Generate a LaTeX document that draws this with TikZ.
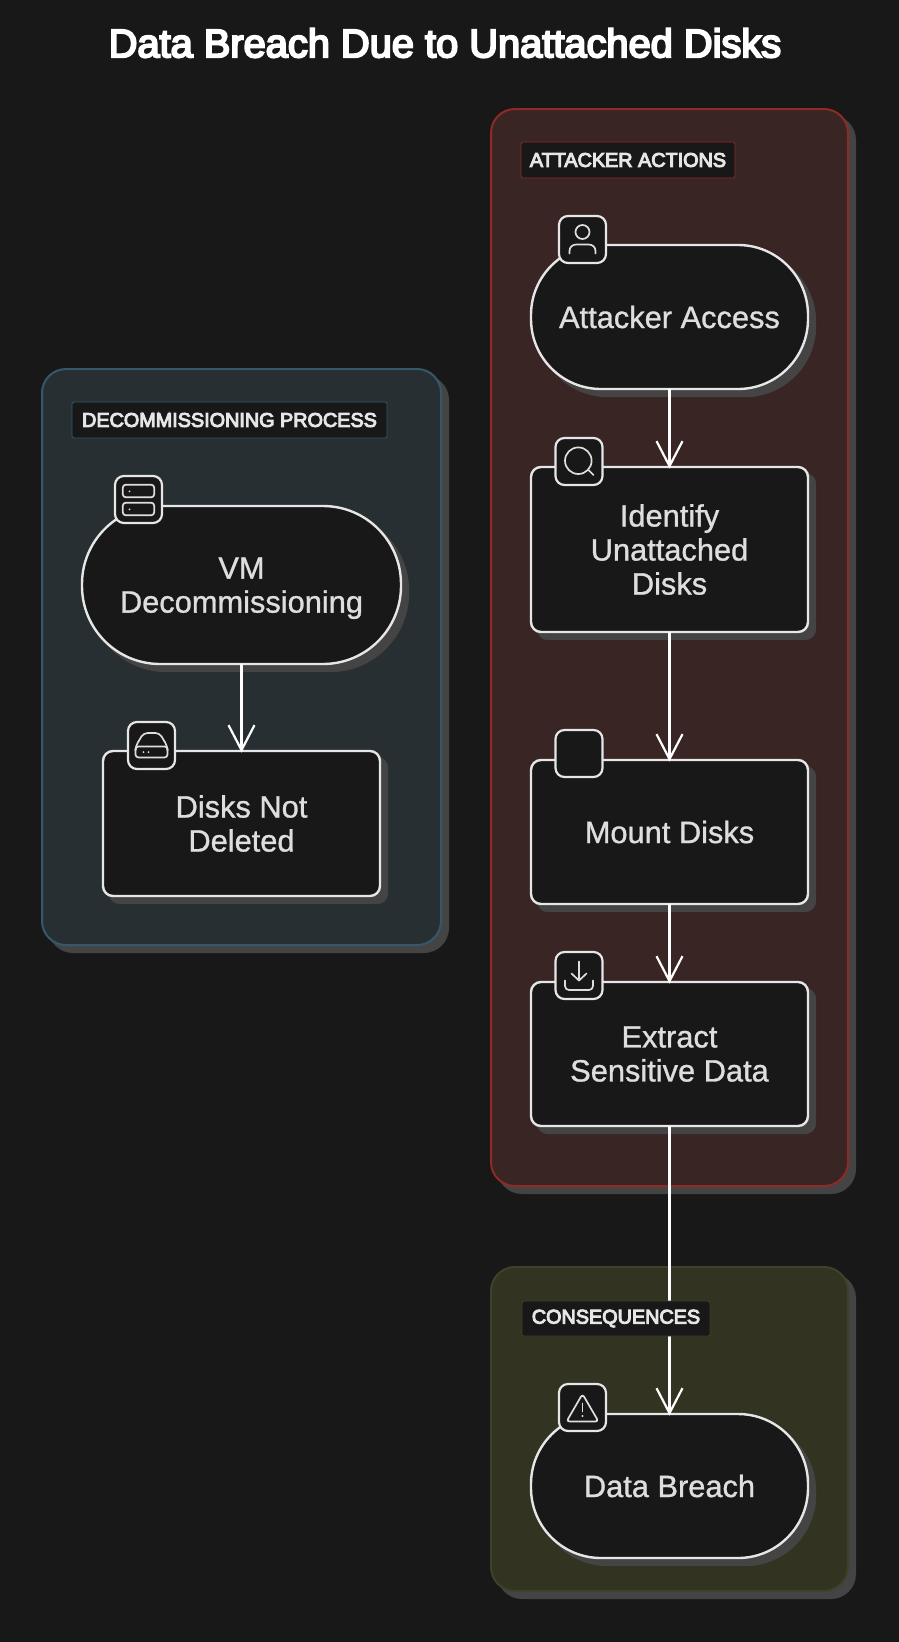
\documentclass[tikz,border=0pt]{standalone}
\usepackage{fontspec}
\setmainfont{Liberation Sans}
\newfontfamily\titlefont[FakeBold=5]{Liberation Sans}
\newfontfamily\labelfont[FakeBold=5]{Liberation Sans}
\newfontfamily\bodyfont[FakeBold=1]{Liberation Sans}
\usetikzlibrary{arrows.meta,shadows}
\definecolor{bg}{HTML}{181818}
\definecolor{shade}{HTML}{444444}
\definecolor{ink}{HTML}{E6E6E6}
\definecolor{txt}{HTML}{DEDEDE}
\definecolor{blueFill}{HTML}{272F32}
\definecolor{blueEdge}{HTML}{35596B}
\definecolor{redFill}{HTML}{382524}
\definecolor{redEdge}{HTML}{8F2A25}
\definecolor{oliveFill}{HTML}{333322}
\definecolor{oliveEdge}{HTML}{40412A}
\tikzset{
  cluster/.style={rectangle,rounded corners=24pt,line width=2pt,inner sep=0pt,outer sep=0pt,
    copy shadow={shadow xshift=7pt,shadow yshift=-7pt,fill=shade,draw=shade}},
  procbox/.style={rectangle,draw=ink,fill=bg,line width=2.4pt,rounded corners=10pt,minimum width=277pt,
    inner sep=0pt,outer sep=0pt,text=txt,align=center,font=\bodyfont\fontsize{30.8}{34}\selectfont,
    copy shadow={shadow xshift=7pt,shadow yshift=-7pt,fill=shade,draw=shade}},
  stadium/.style={procbox,rounded corners=70pt},
  grouplabel/.style={rectangle,fill=bg,line width=0.8pt,rounded corners=2pt,inner sep=0pt,outer sep=0pt,
    text=ink,font=\labelfont\fontsize{19.8}{22}\selectfont},
  iconbox/.style={rectangle,draw=ink,fill=bg,line width=2.2pt,rounded corners=9pt,minimum width=47pt,minimum height=47pt,inner sep=0pt,outer sep=0pt},
  glyph/.style={draw=txt,line width=1.7pt,line cap=round,line join=round},
  flow/.style={draw=white,line width=2.2pt,shorten >=-1.5pt,-{Straight Barb[length=25pt,width=26pt,line width=2.2pt]}},
}
\begin{document}
\begin{tikzpicture}[x=1pt,y=-1pt]
\useasboundingbox (0,0) rectangle (899,1642);
\fill[bg] (0,0) rectangle (899,1642);
\node[text=white,font=\titlefont\fontsize{39.8}{44}\selectfont,inner sep=0pt] (title) at (445,43) {Data Breach Due to Unattached Disks};

% clusters
\node[cluster,draw=blueEdge,fill=blueFill,minimum width=399pt,minimum height=576pt] (groupA) at (241.5,657) {};
\node[cluster,draw=redEdge,fill=redFill,minimum width=357pt,minimum height=1077pt] (groupB) at (669.5,647.5) {};
\node[cluster,draw=oliveEdge,fill=oliveFill,minimum width=357pt,minimum height=324pt] (groupC) at (669.5,1429) {};

% nodes
\node[stadium,minimum width=319pt,minimum height=158pt,rounded corners=78pt] (vm) at (241.5,585) {VM\\\raisebox{0pt}[\height][0pt]{Decommissioning}};
\node[procbox,minimum height=145pt] (disks) at (241.5,823.5) {Disks Not\\Deleted};
\node[stadium,minimum height=144pt] (access) at (669.5,317) {\raisebox{-1pt}{Attacker Access}};
\node[procbox,minimum height=165pt] (identify) at (669.5,549.5) {Identify\\Unattached\\Disks};
\node[procbox,minimum height=144pt] (mount) at (669.5,832) {Mount Disks};
\node[procbox,minimum height=144pt] (extract) at (669.5,1054) {Extract\\Sensitive Data};
\node[stadium,minimum height=144pt] (breach) at (669.5,1486) {\raisebox{-1pt}{Data Breach}};

% connectors
\draw[flow] (vm.south) -- (disks.north);
\draw[flow] (access.south) -- (identify.north);
\draw[flow] (identify.south) -- (mount.north);
\draw[flow] (mount.south) -- (extract.north);
\draw[flow] (extract.south) -- (breach.north);

% group labels
\node[grouplabel,draw=blueEdge,minimum width=315pt,minimum height=36pt] (labelA) at (229.5,420) {DECOMMISSIONING PROCESS};
\node[grouplabel,draw=redEdge,minimum width=214pt,minimum height=36pt] (labelB) at (628,160) {ATTACKER ACTIONS};
\node[grouplabel,draw=oliveEdge,minimum width=188pt,minimum height=35pt] (labelC) at (616,1318.5) {CONSEQUENCES};

% icon boxes
\node[iconbox] (iconVm) at (138.5,499.5) {};
\node[iconbox] (iconDisks) at (151.5,745.5) {};
\node[iconbox] (iconAccess) at (582.5,239.5) {};
\node[iconbox] (iconIdentify) at (579,461.5) {};
\node[iconbox] (iconMount) at (579,753.5) {};
\node[iconbox] (iconExtract) at (579,975.5) {};
\node[iconbox] (iconBreach) at (582.5,1407.5) {};

% server glyph
\begin{scope}[shift={(iconVm.center)}]
  \draw[glyph,rounded corners=3pt] (-15.7,-14.8) rectangle (15.7,-2.2);
  \draw[glyph,rounded corners=3pt] (-15.7,3.2) rectangle (15.7,15.8);
  \fill[txt] (-9,-8.2) circle (1pt) (-9,9.8) circle (1pt);
\end{scope}
% disk glyph
\begin{scope}[shift={(iconDisks.center)}]
  \draw[glyph,rounded corners=3pt] (-16,1) rectangle (16,12);
  \draw[glyph,rounded corners=4pt] (-16,3) -- (-16,1) -- (-8,-12.5) -- (8,-12.5) -- (16,1) -- (16,3);
  \fill[txt] (-8,6.5) circle (1pt) (-3,6.5) circle (1pt);
\end{scope}
% user glyph
\begin{scope}[shift={(iconAccess.center)}]
  \draw[glyph] (0,-7.5) circle (7);
  \draw[glyph] (-13,14) -- (-13,11.5) .. controls (-13,7.5) and (-10,5) .. (-6,5) -- (6,5) .. controls (10,5) and (13,7.5) .. (13,11.5) -- (13,14);
\end{scope}
% magnifier glyph
\begin{scope}[shift={(iconIdentify.center)}]
  \draw[glyph] (-0.7,-0.8) circle (13.3);
  \draw[glyph] (9,8) -- (14.5,13.5);
\end{scope}
% download glyph
\begin{scope}[shift={(iconExtract.center)}]
  \draw[glyph] (0,-14) -- (0,5);
  \draw[glyph] (-7.5,-2) -- (0,5) -- (7.5,-2);
  \draw[glyph,rounded corners=4pt] (-14,5) -- (-14,14.5) -- (14,14.5) -- (14,5);
\end{scope}
% warning glyph
\begin{scope}[shift={(iconBreach.center)}]
  \draw[glyph,rounded corners=3pt] (0,-13.5) -- (16,14) -- (-16,14) -- cycle;
  \draw[glyph] (0,-4) -- (0,4);
  \fill[txt] (0,8.5) circle (1.1pt);
\end{scope}
\end{tikzpicture}
\end{document}
